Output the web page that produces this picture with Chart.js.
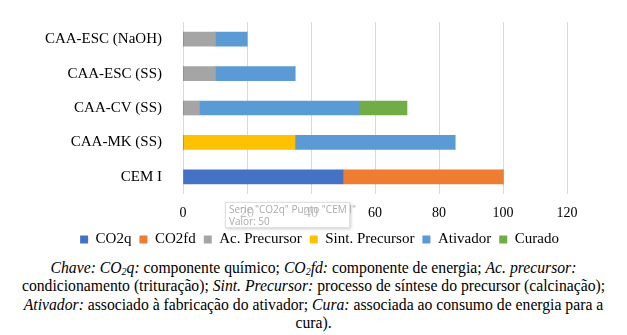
<!DOCTYPE html>
<html>
<head>
<meta charset="utf-8">
<script src="https://cdn.jsdelivr.net/npm/chart.js@4.4.0/dist/chart.umd.min.js"></script>
<style>
  body { margin: 0; background: #fff; width: 627px; height: 335px; overflow: hidden; position: relative; }
  #wrap { position: absolute; left: 0; top: 0; width: 627px; height: 258px; }
  #nota {
    position: absolute; left: 0; top: 259px; width: 627px;
    font-family: "Liberation Serif", "Times New Roman", serif; font-size: 15.7px; line-height: 18.4px;
    text-align: center; color: #000;
  }
  #nota sub { font-size: 10px; vertical-align: -2px; line-height: 0; }
  #dica {
    position: absolute; left: 225px; top: 202px; width: 125px; height: 26px;
    background: rgba(255,255,255,0.75); border: 1px solid #e0e0e0;
    box-shadow: 1px 1px 3px rgba(0,0,0,0.2);
    font-family: "Open Sans", sans-serif; font-size: 10px; line-height: 11.5px;
    color: #aaa; padding: 1px 3px; box-sizing: border-box; white-space: nowrap;
  }
</style>
</head>
<body>
<div id="wrap"><canvas id="myChart" width="627" height="258"></canvas></div>
<div id="dica">Serie "CO2q" Punto "CEM I"<br>Valor: 50</div>
<div id="nota">
  <i>Chave: CO<sub>2</sub>q:</i> componente químico; <i>CO<sub>2</sub>fd:</i> componente de energia; <i>Ac. precursor:</i><br>
  condicionamento (trituração); <i>Sint. Precursor:</i> processo de síntese do precursor (calcinação);<br>
  <i>Ativador:</i> associado à fabricação do ativador; <i>Cura:</i> associada ao consumo de energia para a<br>
  cura).
</div>
<script>
var categorias = ['CAA-ESC (NaOH)', 'CAA-ESC (SS)', 'CAA-CV (SS)', 'CAA-MK (SS)', 'CEM I'];
var co2q = [0, 0, 0, 0, 50];
var co2fd = [0, 0, 0, 0, 50];
var acPrecursor = [10, 10, 5, 0, 0];
var sintPrecursor = [0, 0, 0, 35, 0];
var ativador = [10, 25, 50, 50, 0];
var curado = [0, 0, 15, 0, 0];
var ticksX = [0, 20, 40, 60, 80, 100, 120];

var fonte = '"Liberation Serif", "Times New Roman", serif';

function serie(nome, valores, cor) {
    return {
        label: nome,
        data: valores,
        backgroundColor: cor,
        borderWidth: 0,
        barThickness: 14
    };
}

// altura fixa da legenda e legenda centrada na largura toda
var legendaFixa = {
    id: 'legendaFixa',
    beforeInit: function (chart) {
        var fitOrig = chart.legend.fit;
        chart.legend.fit = function () {
            fitOrig.bind(chart.legend)();
            this.height = 34;
        };
    },
    afterLayout: function (chart) {
        chart.legend.left += 36;
        chart.legend.right += 36;
    }
};

var ctx = document.getElementById('myChart').getContext('2d');
var myChart = new Chart(ctx, {
    type: 'bar',
    plugins: [legendaFixa],
    data: {
        labels: categorias,
        datasets: [
            serie('CO2q', co2q, '#4472C4'),
            serie('CO2fd', co2fd, '#ED7D31'),
            serie('Ac. Precursor', acPrecursor, '#A5A5A5'),
            serie('Sint. Precursor', sintPrecursor, '#FFC000'),
            serie('Ativador', ativador, '#5B9BD5'),
            serie('Curado', curado, '#70AD47')
        ]
    },
    options: {
        indexAxis: 'y',
        responsive: false,
        animation: false,
        layout: { padding: { top: 14, right: 60, bottom: 0, left: 0 } },
        plugins: {
            tooltip: { enabled: false },
            legend: {
                position: 'bottom',
                labels: {
                    boxWidth: 8,
                    boxHeight: 8,
                    padding: 8,
                    color: '#000',
                    font: { family: fonte, size: 15 }
                }
            }
        },
        scales: {
            x: {
                stacked: true,
                min: ticksX[0],
                max: ticksX[ticksX.length - 1],
                afterBuildTicks: function (axis) {
                    axis.ticks = ticksX.map(function (v) { return { value: v }; });
                },
                afterFit: function (axis) { axis.height = 30; },
                grid: { color: '#d9d9d9', drawTicks: false },
                border: { display: false },
                ticks: { padding: 11, color: '#000', font: { family: fonte, size: 14 } }
            },
            y: {
                stacked: true,
                afterFit: function (axis) { axis.width = 183; },
                grid: { display: false },
                border: { display: false },
                ticks: { padding: 13, color: '#000', font: { family: fonte, size: 15 } }
            }
        }
    }
});
</script>
</body>
</html>
